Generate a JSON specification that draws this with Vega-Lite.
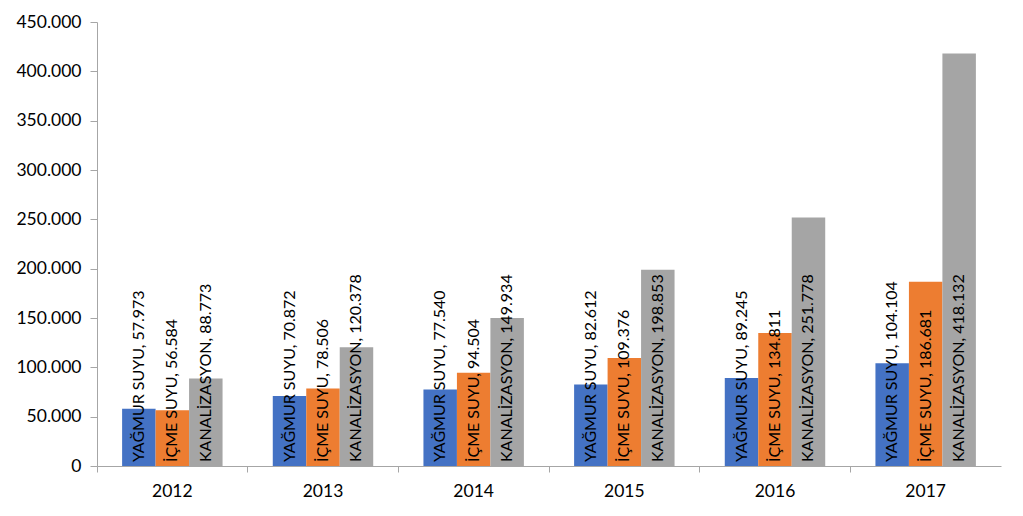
{
  "$schema": "https://vega.github.io/schema/vega-lite/v6.json",
  "width": 904,
  "height": 444,
  "autosize": {"type": "none"},
  "padding": {"left": 97, "top": 22, "right": 22, "bottom": 50},
  "background": "white",
  "config": {
    "locale": {"number": {"decimal": ",", "thousands": ".", "grouping": [3], "currency": ["", ""]}},
    "view": {"stroke": null},
    "font": "Lato"
  },
  "data": {
    "values": [
      {"year": "2012", "series": "YAĞMUR SUYU", "value": 57973},
      {"year": "2012", "series": "İÇME SUYU", "value": 56584},
      {"year": "2012", "series": "KANALİZASYON", "value": 88773},
      {"year": "2013", "series": "YAĞMUR SUYU", "value": 70872},
      {"year": "2013", "series": "İÇME SUYU", "value": 78506},
      {"year": "2013", "series": "KANALİZASYON", "value": 120378},
      {"year": "2014", "series": "YAĞMUR SUYU", "value": 77540},
      {"year": "2014", "series": "İÇME SUYU", "value": 94504},
      {"year": "2014", "series": "KANALİZASYON", "value": 149934},
      {"year": "2015", "series": "YAĞMUR SUYU", "value": 82612},
      {"year": "2015", "series": "İÇME SUYU", "value": 109376},
      {"year": "2015", "series": "KANALİZASYON", "value": 198853},
      {"year": "2016", "series": "YAĞMUR SUYU", "value": 89245},
      {"year": "2016", "series": "İÇME SUYU", "value": 134811},
      {"year": "2016", "series": "KANALİZASYON", "value": 251778},
      {"year": "2017", "series": "YAĞMUR SUYU", "value": 104104},
      {"year": "2017", "series": "İÇME SUYU", "value": 186681},
      {"year": "2017", "series": "KANALİZASYON", "value": 418132}
    ]
  },
  "transform": [
    {"calculate": "datum.series + ', ' + format(datum.value, ',')", "as": "label"}
  ],
  "encoding": {
    "x": {
      "field": "year", "type": "nominal", "title": null,
      "scale": {"paddingInner": 0, "paddingOuter": 0},
      "axis": {
        "bandPosition": 0, "labelAngle": 0, "labelFontSize": 17.5, "labelColor": "#000000",
        "labelPadding": 10, "domainColor": "#A6A6A6", "tickColor": "#A6A6A6", "tickSize": 6,
        "labelFont": "Lato", "labelBound": false, "labelFlush": false, "labelOverlap": false
      }
    },
    "xOffset": {
      "field": "series", "type": "nominal",
      "sort": ["YAĞMUR SUYU", "İÇME SUYU", "KANALİZASYON"],
      "scale": {"paddingInner": 0, "paddingOuter": 0.75}
    }
  },
  "layer": [
    {
      "mark": {"type": "bar"},
      "encoding": {
        "y": {
          "field": "value", "type": "quantitative", "title": null,
          "scale": {"domain": [0, 450000], "nice": false},
          "axis": {
            "values": [0, 50000, 100000, 150000, 200000, 250000, 300000, 350000, 400000, 450000],
            "format": ",.0f", "grid": false, "labelFontSize": 17.5, "labelColor": "#000000",
            "labelPadding": 9, "domainColor": "#A6A6A6", "tickColor": "#A6A6A6", "tickSize": 7,
            "labelFont": "Lato"
          }
        },
        "color": {
          "field": "series", "type": "nominal", "legend": null,
          "scale": {
            "domain": ["YAĞMUR SUYU", "İÇME SUYU", "KANALİZASYON"],
            "range": ["#4472C4", "#ED7D31", "#A5A5A5"]
          }
        }
      }
    },
    {
      "mark": {"type": "text", "angle": 270, "align": "left", "baseline": "middle", "dx": 4, "fontSize": 16, "font": "Lato", "color": "#000000"},
      "encoding": {
        "y": {"datum": 0, "type": "quantitative"},
        "text": {"field": "label"}
      }
    }
  ]
}
